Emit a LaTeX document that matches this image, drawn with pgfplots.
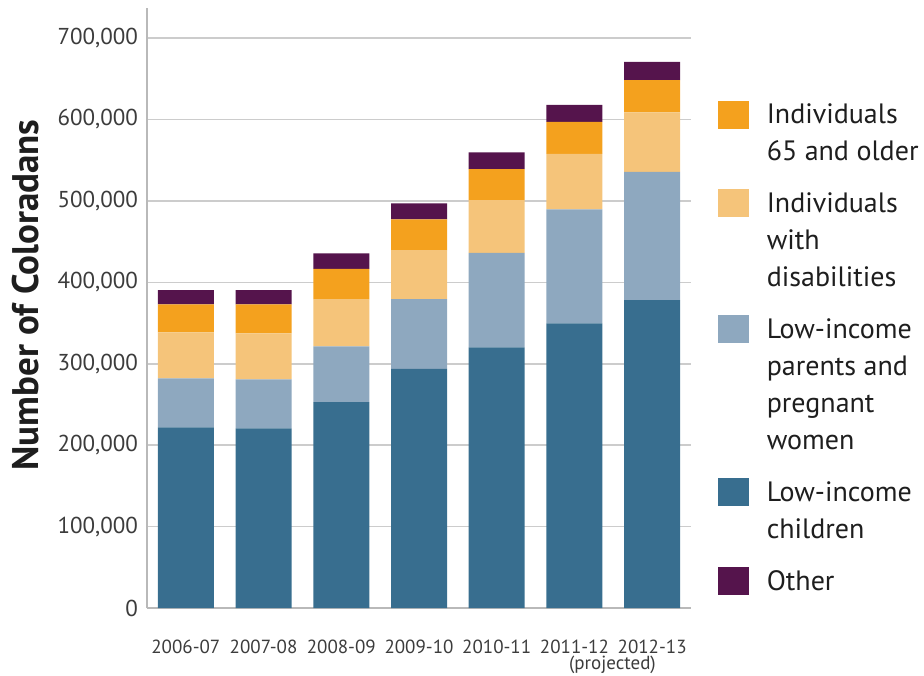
\documentclass[border=0pt]{standalone}
\usepackage{fontspec}
\setmainfont{PT Sans}
\usepackage{pgfplots}
\pgfplotsset{compat=1.18}
\definecolor{cchild}{RGB}{56,110,143}
\definecolor{cparent}{RGB}{142,168,191}
\definecolor{cdisab}{RGB}{245,196,122}
\definecolor{cold}{RGB}{244,161,30}
\definecolor{cother}{RGB}{85,20,76}
\definecolor{gridgray}{RGB}{204,204,204}
\definecolor{axisgray}{RGB}{185,185,185}
\definecolor{textgray}{RGB}{60,60,60}
\definecolor{textdark}{RGB}{30,30,30}
\begin{document}
\begin{tikzpicture}
\path[use as bounding box] (0,0) rectangle (462pt,337.5pt);
\node[rotate=90, font=\bfseries\fontsize{18.5}{20}\selectfont, text=textdark] at (13pt,190pt) {Number of Coloradans};
\begin{axis}[
  at={(73.5pt,33.5pt)}, anchor=south west,
  scale only axis, width=272pt, height=300pt,
  ybar stacked, bar width=28pt,
  xmin=-0.5, xmax=6.5, ymin=0, ymax=737000,
  scaled y ticks=false,
  xtick={0,1,2,3,4,5,6},
  xticklabels={2006-07,2007-08,2008-09,2009-10,2010-11,{2011-12\\[-2pt]\hspace*{38pt}(projected)},2012-13},
  major x tick style={draw=none},
  extra x ticks={-0.5,0.5,1.5,2.5,3.5,4.5,5.5,6.5},
  extra x tick labels={},
  extra x tick style={major tick length=8pt, tick align=inside, major tick style={draw=axisgray, line width=0.8pt}, grid=none},
  ytick={0,100000,200000,300000,400000,500000,600000,700000},
  yticklabels={0,{100,000},{200,000},{300,000},{400,000},{500,000},{600,000},{700,000}},
  y tick style={draw=none},
  ymajorgrids, grid style={gridgray, line width=0.8pt},
  axis x line*=bottom, axis y line*=left,
  axis line style={axisgray, line width=0.8pt},
  tick label style={text=textgray},
  yticklabel style={font=\fontsize{11.5}{13}\selectfont, xshift=-1pt},
  xticklabel style={font=\fontsize{9.5}{10}\selectfont, align=center, yshift=-12.5pt},
  legend style={at={(1.0496,0.8467)}, anchor=north west, draw=none, fill=none,
    inner sep=0pt, outer sep=0pt, row sep=10.5pt, column sep=7pt,
    font=\fontsize{14}{18.5}\selectfont, text=textdark,
    cells={anchor=north west, align=left, inner sep=0pt}},
]
\addplot+[fill=cchild, draw=none, forget plot] coordinates {(0,221900) (1,220700) (2,253000) (3,293700) (4,320200) (5,349600) (6,378200)};
\addplot+[fill=cparent, draw=none, forget plot] coordinates {(0,60200) (1,60200) (2,68400) (3,85800) (4,116100) (5,140000) (6,157600)};
\addplot+[fill=cdisab, draw=none, forget plot] coordinates {(0,56500) (1,56400) (2,58100) (3,60100) (4,64700) (5,68300) (6,72900)};
\addplot+[fill=cold, draw=none, forget plot] coordinates {(0,34400) (1,35700) (2,37200) (3,37700) (4,38100) (5,39300) (6,39700)};
\addplot+[fill=cother, draw=none, forget plot] coordinates {(0,17500) (1,17500) (2,18900) (3,19700) (4,20500) (5,20900) (6,22500)};
\addlegendimage{legend image code/.code={\fill[cold] (0pt,-0.5pt) rectangle (15pt,-14pt);}}
\addlegendentry{Individuals\\65 and older}
\addlegendimage{legend image code/.code={\fill[cdisab] (0pt,-0.5pt) rectangle (15pt,-14pt);}}
\addlegendentry{Individuals\\with\\disabilities}
\addlegendimage{legend image code/.code={\fill[cparent] (0pt,-0.5pt) rectangle (15pt,-14pt);}}
\addlegendentry{Low-income\\parents and\\pregnant\\women}
\addlegendimage{legend image code/.code={\fill[cchild] (0pt,-0.5pt) rectangle (15pt,-14pt);}}
\addlegendentry{Low-income\\children}
\addlegendimage{legend image code/.code={\fill[cother] (0pt,-0.5pt) rectangle (15pt,-14pt);}}
\addlegendentry{Other}
\end{axis}
\end{tikzpicture}
\end{document}
